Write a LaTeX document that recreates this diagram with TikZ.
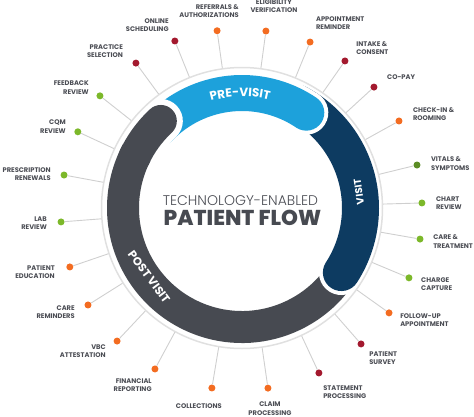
\documentclass[tikz,border=0pt]{standalone}
\usepackage{fontspec}
\setmainfont{Poppins}
\newfontfamily\lightfont{Poppins Light}
\newfontfamily\heavyfont{Poppins ExtraBold}
\usetikzlibrary{decorations.text}

\definecolor{previsit}{HTML}{1DA1DB}
\definecolor{visit}{HTML}{0D3B61}
\definecolor{postvisit}{HTML}{474A51}
\definecolor{ringgray}{HTML}{E0E0E0}
\definecolor{spokegray}{HTML}{CFCFCF}
\definecolor{textgray}{HTML}{4B4D54}
\definecolor{dotorange}{HTML}{F36C21}
\definecolor{dotred}{HTML}{A3192E}
\definecolor{dotgreen}{HTML}{7CB82A}
\definecolor{dotolive}{HTML}{5B8C24}

\tikzset{
  bandhalo/.style={draw=white, line width=#1, line cap=round},
  bandarc/.style={line width=#1, line cap=round},
  bandtext/.style={decorate, decoration={text along path, text align=center, text color=white}},
  bandlabel/.style={text=white, inner sep=0pt, font=\bfseries\fontsize{#1}{#1}\selectfont},
  bead/.style={circle, fill=#1, inner sep=0pt, minimum size=7pt},
  spokeline/.style={draw=spokegray, line width=0.9pt},
  itemtext/.style={font=\bfseries\fontsize{6.7}{8.2}\selectfont, text=textgray, inner sep=0pt},
  itemleft/.style={itemtext, anchor=east, align=right},
  itemright/.style={itemtext, anchor=west, align=left}
}

\begin{document}
\begin{tikzpicture}[x=1pt,y=1pt]
\useasboundingbox (-242,-208) rectangle (232,208);
% the three bands
\draw[bandhalo=40pt] (-22:119) arc[start angle=-22, end angle=-227, radius=119];
\draw[bandarc=32pt, draw=postvisit] (-22:119) arc[start angle=-22, end angle=-227, radius=119];
\draw[bandhalo=45pt] (62:118.5) arc[start angle=62, end angle=-33, radius=118.5];
\draw[bandarc=37pt, draw=visit] (62:118.5) arc[start angle=62, end angle=-33, radius=118.5];
\draw[bandhalo=44pt] (136:115) arc[start angle=136, end angle=56, radius=115];
\draw[bandarc=36pt, draw=previsit] (136:115) arc[start angle=136, end angle=56, radius=115];
\draw[bandhalo=44pt] (145:119) arc[start angle=145, end angle=133, radius=119];
\draw[bandarc=32pt, draw=postvisit] (155:119) arc[start angle=155, end angle=133, radius=119];

\path[bandtext, decoration={text={|\bfseries\fontsize{12}{12}\selectfont|PRE-VISIT}}]
  (138:111.4) arc[start angle=138, end angle=44, radius=111.4];
\node[bandlabel=10, rotate=97.8] (visittext) at (7.8:118) {VISIT};
\node[bandlabel=11.5, rotate=-53.4] (posttext) at (216.6:115.8) {POST VISIT};

\node[circle, draw=ringgray, line width=1.5pt, minimum size=281pt, inner sep=0pt] (ring) at (0,0) {};

\node[font=\lightfont\fontsize{14}{14}\selectfont, text=textgray, anchor=base] (techtext) at (-1.5,3) {TECHNOLOGY-ENABLED};
\node[font=\heavyfont\fontsize{21.5}{21.5}\selectfont, text=postvisit, anchor=base] (flowtext) at (0.5,-17) {PATIENT FLOW};

% steps round the ring
\node[bead=dotorange] (referrals)    at (98:179)     {};
\node[bead=dotred]    (online)       at (111.9:180)  {};
\node[bead=dotred]    (practice)     at (126.2:179.6) {};
\node[bead=dotgreen]  (feedback)     at (141.7:181)  {};
\node[bead=dotgreen]  (cqm)          at (155.1:181)  {};
\node[bead=dotgreen]  (prescription) at (169.5:181)  {};
\node[bead=dotgreen]  (lab)          at (184.4:181.5) {};
\node[bead=dotorange] (education)    at (198.9:182)  {};
\node[bead=dotorange] (reminders)    at (212.2:182)  {};
\node[bead=dotorange] (vbc)          at (226.8:182.5) {};
\node[bead=dotorange] (financial)    at (241.6:183)  {};
\node[bead=dotorange] (collections)  at (260.5:182.5) {};
\node[bead=dotorange] (claim)        at (278.2:182)  {};
\node[bead=dotred]    (statement)    at (295:182)    {};
\node[bead=dotred]    (survey)       at (311.2:180.7) {};
\node[bead=dotorange] (followup)     at (324.5:180.6) {};
\node[bead=dotgreen]  (charge)       at (337.3:181)  {};
\node[bead=dotgreen]  (treatment)    at (350.1:180.7) {};
\node[bead=dotgreen]  (chart)        at (1.6:180)    {};
\node[bead=dotolive]  (vitals)       at (13.8:180.2) {};
\node[bead=dotorange] (checkin)      at (29:179.5)   {};
\node[bead=dotred]    (copay)        at (42.5:179)   {};
\node[bead=dotred]    (intake)       at (55:179.5)   {};
\node[bead=dotorange] (appointment)  at (67.7:179.4) {};
\node[bead=dotorange] (eligibility)  at (82.3:178.6) {};

\draw[spokeline]
  (referrals) -- (ring) (online) -- (ring) (practice) -- (ring) (feedback) -- (ring)
  (cqm) -- (ring) (prescription) -- (ring) (lab) -- (ring) (education) -- (ring)
  (reminders) -- (ring) (vbc) -- (ring) (financial) -- (ring) (collections) -- (ring)
  (claim) -- (ring) (statement) -- (ring) (survey) -- (ring) (followup) -- (ring)
  (charge) -- (ring) (treatment) -- (ring) (chart) -- (ring) (vitals) -- (ring)
  (checkin) -- (ring) (copay) -- (ring) (intake) -- (ring) (appointment) -- (ring)
  (eligibility) -- (ring);

\node[itemtext, anchor=south east, align=right] (referralstext) at (90.9:190) {REFERRALS \&\\AUTHORIZATIONS};
\node[itemleft]  (onlinetext)       at (111.8:197)  {ONLINE\\SCHEDULING};
\node[itemleft]  (practicetext)     at (127.2:196.6) {PRACTICE\\SELECTION};
\node[itemleft]  (feedbacktext)     at (141.8:194.8) {FEEDBACK\\REVIEW};
\node[itemleft]  (cqmtext)          at (155.2:194)  {CQM\\REVIEW};
\node[itemleft]  (prescriptiontext) at (170:194)    {PRESCRIPTION\\RENEWALS};
\node[itemleft]  (labtext)          at (184.5:195.6) {LAB\\REVIEW};
\node[itemleft]  (educationtext)    at (199:197.8)  {PATIENT\\EDUCATION};
\node[itemleft]  (reminderstext)    at (212:197)    {CARE\\REMINDERS};
\node[itemleft]  (vbctext)          at (226.5:197.7) {VBC\\ATTESTATION};
\node[itemleft]  (financialtext)    at (243:198.6)  {FINANCIAL\\REPORTING};
\node[itemtext, anchor=north, align=center] (collectionstext) at (257.6:200.7) {COLLECTIONS};
\node[itemtext, anchor=north, align=center] (claimtext)       at (278.2:196)   {CLAIM\\PROCESSING};
\node[itemright] (statementtext)    at (293.8:201)  {STATEMENT\\PROCESSING};
\node[itemright] (surveytext)       at (310.2:197)  {PATIENT\\SURVEY};
\node[itemright] (followuptext)     at (324.7:193.7) {FOLLOW-UP\\APPOINTMENT};
\node[itemright] (chargetext)       at (337:194.5)  {CHARGE\\CAPTURE};
\node[itemright] (treatmenttext)    at (350:194)    {CARE \&\\TREATMENT};
\node[itemright] (charttext)        at (1.5:194)    {CHART\\REVIEW};
\node[itemright] (vitalstext)       at (13.2:194)   {VITALS \&\\SYMPTOMS};
\node[itemright] (checkintext)      at (28.8:195)   {CHECK-IN \&\\ROOMING};
\node[itemright] (copaytext)        at (42.1:195.4) {CO-PAY};
\node[itemright] (intaketext)       at (54.5:196.5) {INTAKE \&\\CONSENT};
\node[itemright] (appointmenttext)  at (68.2:199)   {APPOINTMENT\\REMINDER};
\node[itemtext, anchor=south, align=center] (eligibilitytext) at (80.7:197.6) {ELIGIBILITY\\VERIFICATION};
\end{tikzpicture}
\end{document}
